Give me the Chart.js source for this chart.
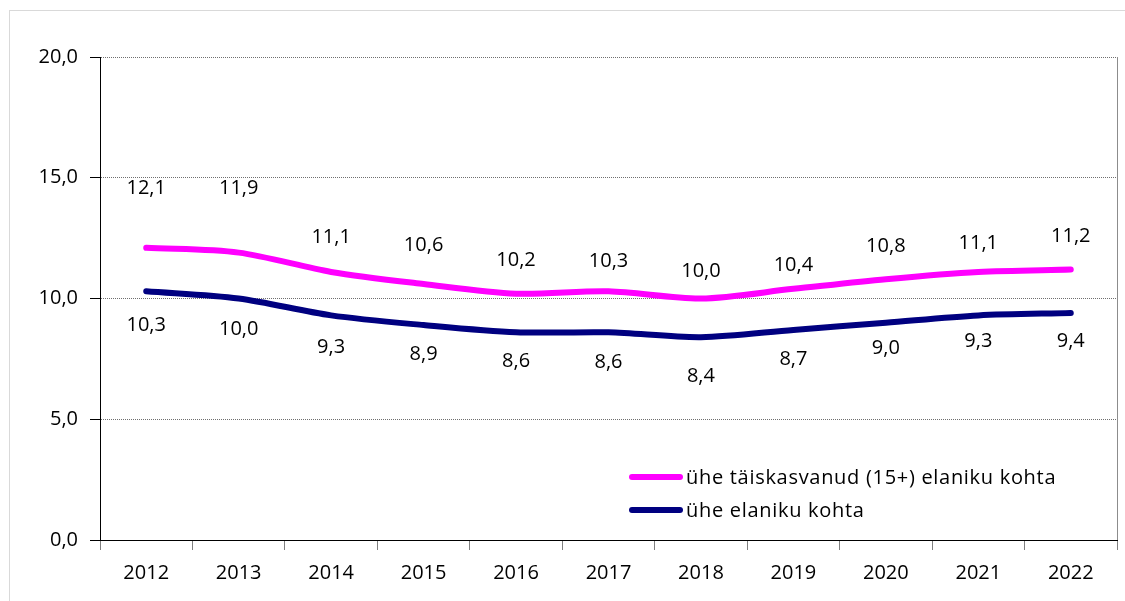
<!DOCTYPE html>
<html lang="et">
  <head>
    <meta charset="UTF-8" />
    <title>Elaniku kohta</title>
    <style>
      html, body { margin: 0; padding: 0; background: #fff; }
      .wrap { position: relative; width: 1125px; height: 601px; }
      .frame { position: absolute; left: 9px; top: 10px; right: 0; bottom: 0; border-left: 1px solid #d9d9d9; border-top: 1px solid #d9d9d9; }
      canvas { position: absolute; left: 0; top: 0; }
    </style>
    <script src="https://cdn.jsdelivr.net/npm/chart.js"></script>
  </head>
  <body>
    <div class="wrap">
      <div class="frame"></div>
      <canvas id="lineChart" width="1125" height="601"></canvas>
    </div>
    <script>
      var years = ["2012", "2013", "2014", "2015", "2016", "2017", "2018", "2019", "2020", "2021", "2022"];
      var adultValues = [12.1, 11.9, 11.1, 10.6, 10.2, 10.3, 10.0, 10.4, 10.8, 11.1, 11.2];
      var allValues = [10.3, 10.0, 9.3, 8.9, 8.6, 8.6, 8.4, 8.7, 9.0, 9.3, 9.4];
      var seriesNames = ["ühe täiskasvanud (15+) elaniku kohta", "ühe elaniku kohta"];

      // label placement (px from the point), as hand-placed in the original
      var adultLift = [59, 64, 35, 39, 33, 30, 27, 24, 33, 29, 33];
      var allDrop = [34, 31, 32, 29, 29, 30, 39, 29, 26, 26, 28];

      var FONT = "'Open Sans', Lato, sans-serif";
      var fmt = function (v) { return v.toFixed(1).replace(".", ","); };

      var extras = {
        id: "extras",
        afterDatasetsDraw: function (chart) {
          var ctx = chart.ctx;
          var area = chart.chartArea;
          ctx.save();
          // right border of plot
          ctx.strokeStyle = "#8c8c8c";
          ctx.lineWidth = 1;
          ctx.beginPath();
          ctx.moveTo(area.right + 0.5, area.top);
          ctx.lineTo(area.right + 0.5, area.bottom);
          ctx.stroke();

          // data labels
          ctx.fillStyle = "#000";
          ctx.font = "20px " + FONT;
          ctx.textAlign = "center";
          ctx.textBaseline = "middle";
          chart.getDatasetMeta(0).data.forEach(function (pt, i) {
            ctx.fillText(fmt(adultValues[i]), pt.x, pt.y - adultLift[i]);
          });
          chart.getDatasetMeta(1).data.forEach(function (pt, i) {
            ctx.fillText(fmt(allValues[i]), pt.x, pt.y + allDrop[i]);
          });

          // legend
          var colors = ["#ff00ff", "#000080"];
          var ys = [477, 510];
          ctx.textAlign = "left";
          ctx.lineCap = "round";
          ctx.lineWidth = 6;
          ctx.letterSpacing = "0.7px";
          for (var k = 0; k < 2; k++) {
            ctx.strokeStyle = colors[k];
            ctx.beginPath();
            ctx.moveTo(632, ys[k]);
            ctx.lineTo(680, ys[k]);
            ctx.stroke();
            ctx.fillText(seriesNames[k], 686, ys[k] + 1);
          }
          ctx.restore();
        },
      };

      new Chart(document.getElementById("lineChart"), {
        type: "line",
        data: {
          labels: years,
          datasets: [
            {
              label: seriesNames[0],
              data: adultValues,
              borderColor: "#ff00ff",
              borderWidth: 6,
              borderCapStyle: "round",
              tension: 0.3,
              pointRadius: 0,
              fill: false,
            },
            {
              label: seriesNames[1],
              data: allValues,
              borderColor: "#000080",
              borderWidth: 6,
              borderCapStyle: "round",
              tension: 0.3,
              pointRadius: 0,
              fill: false,
            },
          ],
        },
        options: {
          responsive: false,
          animation: false,
          layout: { padding: { left: 0, top: 57, right: 8, bottom: 0 } },
          plugins: { legend: { display: false }, tooltip: { enabled: false } },
          scales: {
            x: {
              offset: true,
              grid: {
                offset: true,
                drawOnChartArea: false,
                tickLength: 10,
                tickColor: "#7f7f7f",
              },
              border: { display: true, color: "#000", width: 1 },
              ticks: {
                color: "#000",
                font: { family: FONT, size: 20 },
                padding: 11,
                maxRotation: 0,
              },
              afterFit: function (s) { s.height = 61; },
            },
            y: {
              min: 0,
              max: 20,
              ticks: {
                stepSize: 5,
                color: "#000",
                font: { family: FONT, size: 20 },
                padding: 12,
                callback: function (v) { return fmt(v); },
              },
              grid: {
                color: "#6f6f6f",
                lineWidth: 1,
                tickLength: 10,
                tickColor: "#000",
              },
              border: { display: true, color: "#000", width: 1, dash: [1, 1] },
              afterFit: function (s) { s.width = 100; },
            },
          },
        },
        plugins: [extras],
      });
    </script>
  </body>
</html>
